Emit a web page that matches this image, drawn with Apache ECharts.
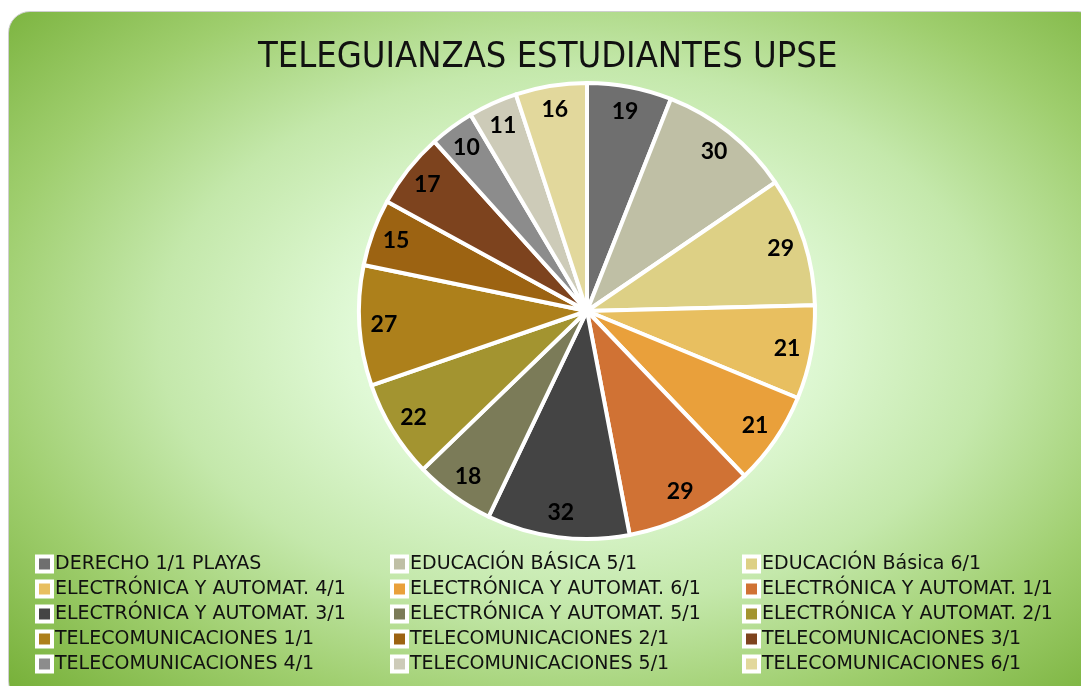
<!DOCTYPE html>
<html>
<head>
<meta charset="utf-8">
<script src="https://cdn.jsdelivr.net/npm/echarts@6.0.0/dist/echarts.min.js"></script>
<style>
  html, body { margin: 0; padding: 0; background: #fff; overflow: hidden; }
  #panel {
    position: absolute; left: 8px; top: 11px;
    width: 1090px; height: 690px;
    border: 1px solid #cfcfcf; border-radius: 22px;
    overflow: hidden;
    background: radial-gradient(ellipse at 52% 47%, #e6fde0 0%, #e0f9d6 28%, #c4e8ab 52%, #9fce6e 74%, #74ae35 100%);
  }
  #chart { position: absolute; left: 0; top: 0; width: 1072px; height: 674px; }
</style>
</head>
<body>
<div id="panel"><div id="chart"></div></div>
<script>
// slices, clockwise from 12 o'clock
var categories = [
  'DERECHO 1/1 PLAYAS',
  'EDUCACIÓN BÁSICA 5/1',
  'EDUCACIÓN Básica 6/1',
  'ELECTRÓNICA Y AUTOMAT. 4/1',
  'ELECTRÓNICA Y AUTOMAT. 6/1',
  'ELECTRÓNICA Y AUTOMAT. 1/1',
  'ELECTRÓNICA Y AUTOMAT. 3/1',
  'ELECTRÓNICA Y AUTOMAT. 5/1',
  'ELECTRÓNICA Y AUTOMAT. 2/1',
  'TELECOMUNICACIONES 1/1',
  'TELECOMUNICACIONES 2/1',
  'TELECOMUNICACIONES 3/1',
  'TELECOMUNICACIONES 4/1',
  'TELECOMUNICACIONES 5/1',
  'TELECOMUNICACIONES 6/1'
];
var values = [19, 30, 29, 21, 21, 29, 32, 18, 22, 27, 15, 17, 10, 11, 16];
var colors = [
  '#6f6f6f', '#bfbfa5', '#ddd085', '#e8bf60', '#e9a03b',
  '#d07234', '#444444', '#7b7b58', '#a39430', '#ad801b',
  '#9c6312', '#7d431e', '#8c8c8c', '#cdcbb8', '#e2d89c'
];

var chart = echarts.init(document.getElementById('chart'));

var pieData = categories.map(function (name, i) {
  return { name: name, value: values[i] };
});

// legend markers: coloured square inside a white frame, done with rich text
var rich = {
  t: {
    fontFamily: 'DejaVu Sans',
    fontSize: 19,
    lineHeight: 20,
    color: '#111',
    padding: [0, 0, 0, 5],
    verticalAlign: 'middle'
  }
};
colors.forEach(function (c, i) {
  rich['m' + i] = {
    width: 11,
    height: 11,
    backgroundColor: c,
    borderColor: '#fff',
    borderWidth: 4,
    verticalAlign: 'middle'
  };
});

// legend is laid out row by row in 3 columns
var legendCols = [0, 1, 2].map(function (c) {
  return categories.filter(function (n, i) { return i % 3 === c; });
});
var colLeft = [24, 379, 731];

var legends = legendCols.map(function (names, c) {
  return {
    data: names,
    orient: 'vertical',
    left: colLeft[c],
    top: 542,
    padding: 0,
    itemGap: 5,
    itemWidth: 0,
    itemHeight: 0,
    icon: 'rect',
    selectedMode: false,
    formatter: function (name) {
      return '{m' + categories.indexOf(name) + '|}{t|' + name + '}';
    },
    textStyle: { lineHeight: 20, rich: rich }
  };
});

chart.setOption({
  color: colors,
  title: {
    text: 'TELEGUIANZAS ESTUDIANTES UPSE',
    left: 249,
    top: 28,
    padding: 0,
    textStyle: {
      fontFamily: '"Liberation Sans Narrow", "DejaVu Sans Condensed", sans-serif',
      fontWeight: 'normal',
      fontSize: 36,
      color: '#111'
    }
  },
  legend: legends,
  series: [
    {
      type: 'pie',
      center: [578, 299],
      radius: [0, 228],
      startAngle: 90,
      clockwise: true,
      data: pieData,
      label: { show: false },
      labelLine: { show: false },
      emphasis: { disabled: true },
      itemStyle: { borderColor: '#fff', borderWidth: 4 }
    },
    {
      // transparent ring only used to place the value labels near the rim
      type: 'pie',
      center: [578, 299],
      radius: [173, 228],
      startAngle: 90,
      clockwise: true,
      silent: true,
      data: pieData,
      itemStyle: { color: 'rgba(0,0,0,0)', borderWidth: 0 },
      label: {
        show: true,
        position: 'inside',
        formatter: '{c}',
        fontFamily: 'Lato',
        fontWeight: 'bold',
        fontSize: 23,
        color: '#000'
      },
      labelLine: { show: false },
      emphasis: { disabled: true }
    }
  ]
});
</script>
</body>
</html>
